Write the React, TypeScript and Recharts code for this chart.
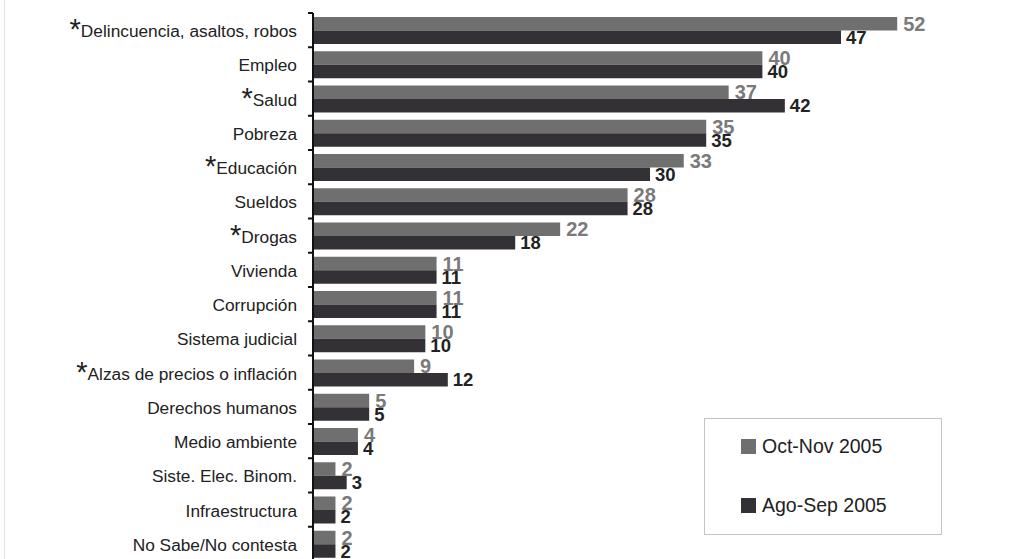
import React from "react";
import { BarChart, Bar, XAxis, YAxis, LabelList, Legend } from "recharts";

const categories = [
  "Delincuencia, asaltos, robos",
  "Empleo",
  "Salud",
  "Pobreza",
  "Educación",
  "Sueldos",
  "Drogas",
  "Vivienda",
  "Corrupción",
  "Sistema judicial",
  "Alzas de precios o inflación",
  "Derechos humanos",
  "Medio ambiente",
  "Siste. Elec. Binom.",
  "Infraestructura",
  "No Sabe/No contesta",
];
const starred = [true, false, true, false, true, false, true, false, false, false, true, false, false, false, false, false];
const octNov2005 = [52, 40, 37, 35, 33, 28, 22, 11, 11, 10, 9, 5, 4, 2, 2, 2];
const agoSep2005 = [47, 40, 42, 35, 30, 28, 18, 11, 11, 10, 12, 5, 4, 3, 2, 2];
const seriesNames = ["Oct-Nov 2005", "Ago-Sep 2005"];
const colors = ["#6f6f6f", "#333135"];
const labelColors = ["#7a7a7a", "#222222"];

const data = categories.map((c, i) => ({
  name: c,
  star: starred[i],
  a: octNov2005[i],
  b: agoSep2005[i],
}));

const W = 1033;
const H = 566;
const M = { top: 13, right: 1, bottom: 5, left: 0 };
const band = (H - M.top - M.bottom) / categories.length;

const Tick = (props: any) => {
  const { x, y, payload, index } = props;
  const d = data[index] || data.find((r) => r.name === payload.value);
  return (
    <g>
      <line x1={x + 11} x2={x + 16} y1={y - band / 2} y2={y - band / 2} stroke="#111" strokeWidth={2} />
      <text x={x} y={y + 1} textAnchor="end" dominantBaseline="central" fontFamily="Liberation Sans, Arial, sans-serif" fontSize={17.3} fill="#222">
        {d && d.star ? (
          <tspan fontSize={29} dy={-2}>*</tspan>
        ) : null}
        <tspan dy={d && d.star ? 2 : 0}>{payload.value}</tspan>
      </text>
    </g>
  );
};

const LegendBox = () => (
  <div
    style={{
      position: "absolute",
      left: 704,
      top: 418,
      width: 238,
      height: 117,
      border: "1px solid #c4c4c4",
      background: "#fff",
      boxSizing: "border-box",
      fontFamily: "Liberation Sans, Arial, sans-serif",
      fontSize: 19.5,
      color: "#222",
    }}
  >
    {seriesNames.map((n, i) => (
      <div key={n} style={{ position: "absolute", left: 36, top: 16 + i * 59, display: "flex", alignItems: "center" }}>
        <span style={{ display: "inline-block", width: 15, height: 15, background: colors[i], marginRight: 6 }} />
        <span>{n}</span>
      </div>
    ))}
  </div>
);

export default function App() {
  return (
    <div style={{ position: "absolute", left: 0, top: 0, width: W, height: 559, overflow: "hidden", background: "#fff" }}>
      <div style={{ position: "absolute", left: 4, top: 0, width: 1, height: 559, background: "#e2e2e2" }} />
      <BarChart width={W} height={H} data={data} layout="vertical" margin={M} barGap={0} barSize={13.5}>
        <XAxis type="number" domain={[0, 64]} orientation="top" tick={false} tickLine={false} axisLine={{ stroke: "#8a8a8a", strokeWidth: 1.5 }} height={0} />
        <YAxis type="category" dataKey="name" width={313} axisLine={{ stroke: "#111", strokeWidth: 2 }} tickLine={false} tickSize={0} tickMargin={16} tick={<Tick />} interval={0} />
        <Bar dataKey="a" name={seriesNames[0]} fill={colors[0]} isAnimationActive={false}>
          <LabelList dataKey="a" position="right" offset={6} fill={labelColors[0]} fontSize={20} fontWeight="bold" fontFamily="Liberation Sans, Arial, sans-serif" />
        </Bar>
        <Bar dataKey="b" name={seriesNames[1]} fill={colors[1]} isAnimationActive={false}>
          <LabelList dataKey="b" position="right" offset={5} fill={labelColors[1]} fontSize={18.5} fontWeight="bold" fontFamily="Liberation Sans, Arial, sans-serif" />
        </Bar>
        <Legend content={() => null} />
      </BarChart>
      <LegendBox />
    </div>
  );
}
